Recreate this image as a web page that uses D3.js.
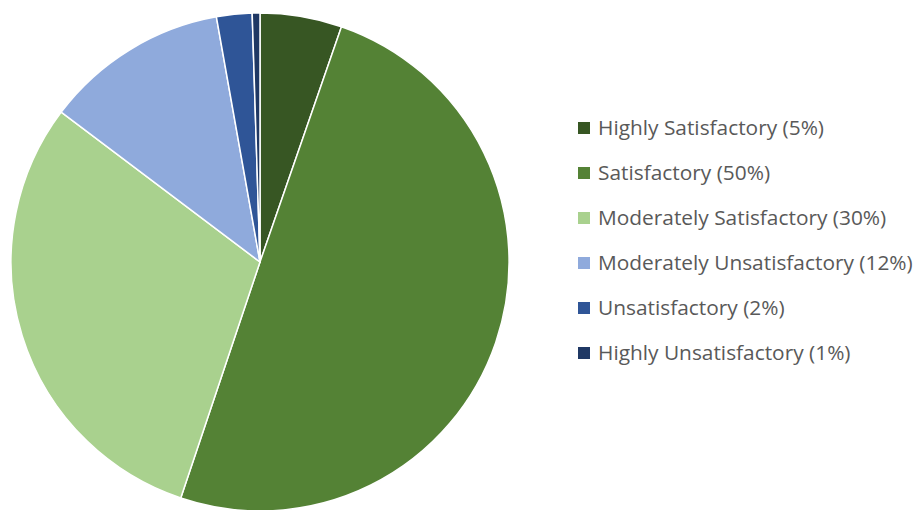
<!DOCTYPE html>
<html><head><meta charset="utf-8">
<script src="https://cdn.jsdelivr.net/npm/d3@7"></script>
<style>html,body{margin:0;padding:0;background:#fff;}</style>
</head><body>
<svg id="chart" width="922" height="510"></svg>
<script>
const categories = ["Highly Satisfactory","Satisfactory","Moderately Satisfactory","Moderately Unsatisfactory","Unsatisfactory","Highly Unsatisfactory"];
const values = [5.3, 49.8, 30.1, 11.9, 2.3, 0.5];
const legendLabels = ["Highly Satisfactory (5%)","Satisfactory (50%)","Moderately Satisfactory (30%)","Moderately Unsatisfactory (12%)","Unsatisfactory (2%)","Highly Unsatisfactory (1%)"];
const colors = ["#375623","#548235","#A9D18E","#8FAADC","#2F5597","#1F3864"];

const svg = d3.select("#chart");
const cx = 260, cy = 262, r = 249;
const color = d3.scaleOrdinal().domain(categories).range(colors);
const pie = d3.pie().sort(null).value(d => d.v);
const arc = d3.arc().innerRadius(0).outerRadius(r);
const data = categories.map((c,i)=>({c, v: values[i]}));

svg.append("g").attr("transform",`translate(${cx},${cy})`)
  .selectAll("path").data(pie(data)).join("path")
  .attr("d", arc).attr("fill", d => color(d.data.c))
  .attr("stroke","#fff").attr("stroke-width",1.5).attr("stroke-linejoin","round");

const ly = d3.scalePoint().domain(categories).range([128, 353]);
const lg = svg.append("g");
const items = lg.selectAll("g").data(categories).join("g")
  .attr("transform", d => `translate(578,${ly(d)})`);
items.append("rect").attr("x",0).attr("y",-6).attr("width",12).attr("height",12)
  .attr("fill", d => color(d));
const txt = items.append("text").attr("x",20).attr("y",0).attr("dy","0.35em")
  .attr("font-family","'Open Sans', sans-serif").attr("font-size",18.5)
  .attr("fill","#595959").text((d,i)=>legendLabels[i]);
// fit the longest label to the reference width (~315px)
const maxW = d3.max(txt.nodes(), n => n.getComputedTextLength());
const fs = 18.5 * 315 / maxW;
txt.attr("font-size", Math.max(16, Math.min(21, fs)));
</script>
</body></html>
